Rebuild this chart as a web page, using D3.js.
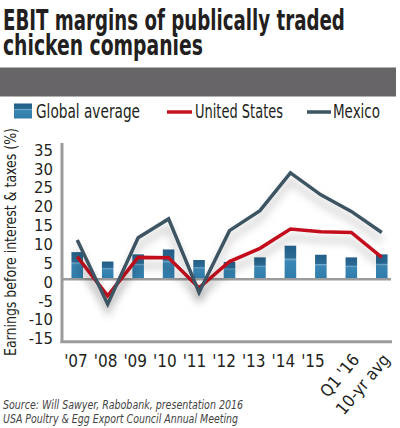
<!DOCTYPE html>
<html>
<head>
<meta charset="utf-8">
<script src="https://cdn.jsdelivr.net/npm/d3@7"></script>
<style>
  body { margin: 0; background: #fff; }
  svg { display: block; }
</style>
</head>
<body>
<div id="chart"></div>
<script>
const width = 400;
const height = 428;

// data
const categories = ["'07", "'08", "'09", "'10", "'11", "'12", "'13", "'14", "'15", "Q1 '16", "10-yr avg"];
const globalAvg = [7.2, 4.7, 6.6, 7.9, 5.1, 4.6, 5.8, 8.9, 6.5, 5.8, 6.6];
const unitedStates = [6.0, -4.4, 5.8, 5.7, -2.3, 4.7, 8.2, 13.3, 12.6, 12.4, 5.8];
const mexico = [10.4, -6.6, 11.0, 16.0, -3.5, 12.9, 18.2, 28.2, 22.4, 18.0, 12.4];
const yTicks = [35, 30, 25, 20, 15, 10, 5, 0, -5, -10, -15];

const narrow = "'DejaVu Sans Condensed', 'Liberation Sans Narrow', sans-serif";

const svg = d3.select("#chart").append("svg")
    .attr("width", width)
    .attr("height", height);

const defs = svg.append("defs");

const grad = defs.append("linearGradient")
    .attr("id", "barGrad")
    .attr("x1", 0).attr("y1", 0).attr("x2", 0).attr("y2", 1);
[[0, "#235f87"], [0.36, "#2a6b95"], [0.4, "#74a9cc"], [0.46, "#3a86b5"], [1, "#2f7cab"]]
  .forEach(s => grad.append("stop").attr("offset", s[0]).attr("stop-color", s[1]));

const shadow = defs.append("filter")
    .attr("id", "shadow")
    .attr("x", "-10%").attr("y", "-20%")
    .attr("width", "120%").attr("height", "150%");
shadow.append("feDropShadow")
    .attr("dx", 0).attr("dy", 8)
    .attr("stdDeviation", 4)
    .attr("flood-color", "#000")
    .attr("flood-opacity", 0.28);

// title: squeeze each line to the width it has in the original
const titleLines = [
  {text: "EBIT margins of publically traded", y: 30, w: 342},
  {text: "chicken companies", y: 55, w: 200}
];
const title = svg.append("g")
    .style("font", `bold 29px ${narrow}`)
    .attr("fill", "#231f20");
titleLines.forEach(l => {
  const t = title.append("text").text(l.text);
  const k = l.w / t.node().getComputedTextLength();
  t.attr("transform", `translate(3,${l.y}) scale(${k},1)`);
});

svg.append("rect")
    .attr("x", 0).attr("y", 67.5)
    .attr("width", 396).attr("height", 29)
    .attr("fill", "#676567");

// legend
const legend = svg.append("g").style("font", `19px ${narrow}`).attr("fill", "#231f20");
legend.append("rect")
    .attr("x", 14).attr("y", 103.5).attr("width", 18).attr("height", 15)
    .attr("fill", "url(#barGrad)");
legend.append("text").attr("x", 36).attr("y", 118)
    .attr("textLength", 104).attr("lengthAdjust", "spacingAndGlyphs")
    .text("Global average");
legend.append("line")
    .attr("x1", 167).attr("x2", 192).attr("y1", 112).attr("y2", 112)
    .attr("stroke", "#c4101f").attr("stroke-width", 3.5);
legend.append("text").attr("x", 195).attr("y", 118)
    .attr("textLength", 88).attr("lengthAdjust", "spacingAndGlyphs")
    .text("United States");
legend.append("line")
    .attr("x1", 307).attr("x2", 331).attr("y1", 112).attr("y2", 112)
    .attr("stroke", "#3e5564").attr("stroke-width", 3.5);
legend.append("text").attr("x", 333).attr("y", 118)
    .attr("textLength", 47).attr("lengthAdjust", "spacingAndGlyphs")
    .text("Mexico");

// scales
const x = d3.scaleBand()
    .domain(categories)
    .range([62, 397])
    .paddingInner(0.62)
    .paddingOuter(0.31);

const y = d3.scaleLinear()
    .domain([-15, 35])
    .range([335.8, 147.3]);

// label positions drift a little from the bars in the original
const xLabel = d3.scalePoint()
    .domain(categories.slice(0, 9))
    .range([76, 313]);

const cx = d => x(d) + x.bandwidth() / 2;

// y axis labels
const yAxis = svg.append("g")
    .attr("transform", "translate(62,0)")
    .call(d3.axisLeft(y).tickValues(yTicks).tickSize(0).tickPadding(9).tickFormat(d3.format("d")));
yAxis.select(".domain").remove();
yAxis.selectAll("text")
    .attr("dy", "0.48em")
    .attr("fill", "#231f20")
    .style("font", `16.5px ${narrow}`)
    .text(d => d < 0 ? "-" + Math.abs(d) : d);

svg.append("text")
    .attr("transform", "translate(16,356) rotate(-90)")
    .attr("textLength", 228).attr("lengthAdjust", "spacingAndGlyphs")
    .style("font", `16px ${narrow}`)
    .attr("fill", "#231f20")
    .text("Earnings before interest & taxes (%)");

// bars
svg.append("g")
  .selectAll("rect")
  .data(globalAvg)
  .join("rect")
    .attr("x", (d, i) => x(categories[i]))
    .attr("y", d => y(d))
    .attr("width", x.bandwidth())
    .attr("height", d => y(0) - y(d))
    .attr("fill", "url(#barGrad)");

// axis frame
const axisColor = "#9b9b9b";
svg.append("line")
    .attr("x1", 62).attr("x2", 391)
    .attr("y1", y(0)).attr("y2", y(0))
    .attr("stroke", axisColor).attr("stroke-width", 2.5);
svg.append("line")
    .attr("x1", 62).attr("x2", 62)
    .attr("y1", 143).attr("y2", 343)
    .attr("stroke", axisColor).attr("stroke-width", 3);
svg.append("line")
    .attr("x1", 60.5).attr("x2", 392)
    .attr("y1", 341.8).attr("y2", 341.8)
    .attr("stroke", axisColor).attr("stroke-width", 3);

// lines
const line = d3.line()
    .x((d, i) => cx(categories[i]))
    .y(d => y(d));

svg.append("path")
    .datum(unitedStates)
    .attr("d", line)
    .attr("fill", "none")
    .attr("stroke", "#c4101f")
    .attr("stroke-width", 3.5)
    .attr("stroke-linejoin", "miter")
    .attr("filter", "url(#shadow)");

svg.append("path")
    .datum(mexico)
    .attr("d", line)
    .attr("fill", "none")
    .attr("stroke", "#3e5564")
    .attr("stroke-width", 3.5)
    .attr("stroke-linejoin", "miter")
    .attr("filter", "url(#shadow)");

// x labels
const xl = svg.append("g")
    .style("font", `17px ${narrow}`)
    .attr("fill", "#231f20");
xl.selectAll("text.flat")
  .data(categories.slice(0, 9))
  .join("text")
    .attr("class", "flat")
    .attr("x", d => xLabel(d))
    .attr("y", 367)
    .attr("text-anchor", "middle")
    .text(d => d);
xl.selectAll("text.rot")
  .data(categories.slice(9))
  .join("text")
    .attr("class", "rot")
    .attr("text-anchor", "end")
    .attr("transform", d => `translate(${cx(d) + 9},360) rotate(-50)`)
    .text(d => d);

// source
const src = svg.append("g")
    .style("font", `italic 12.5px ${narrow}`)
    .attr("fill", "#444");
src.append("text").attr("x", 3).attr("y", 409)
    .attr("textLength", 240).attr("lengthAdjust", "spacingAndGlyphs")
    .text("Source: Will Sawyer, Rabobank, presentation 2016");
src.append("text").attr("x", 3).attr("y", 423)
    .attr("textLength", 235).attr("lengthAdjust", "spacingAndGlyphs")
    .text("USA Poultry & Egg Export Council Annual Meeting");
</script>
</body>
</html>
